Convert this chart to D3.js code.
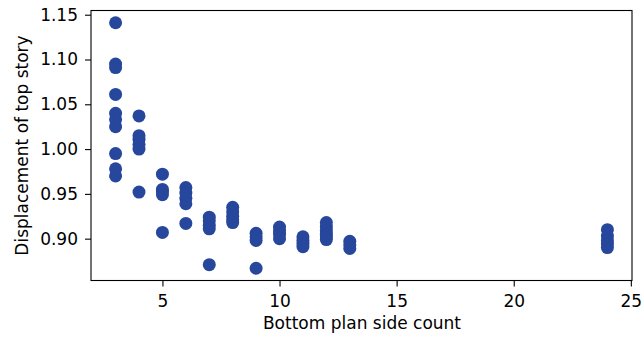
<!DOCTYPE html>
<html>
<head>
<meta charset="utf-8">
<script src="https://cdn.jsdelivr.net/npm/d3@7"></script>
<style>
  body { margin: 0; background: #fff; }
  text { font-family: "DejaVu Sans", sans-serif; fill: #000; }
</style>
</head>
<body>
<div id="chart"></div>
<script>
// side count of the bottom plan and the top story displacement
var sides = [3, 3, 3, 3, 3, 3, 3, 3, 3, 3,
  4, 4, 4, 4, 4, 4,
  5, 5, 5, 5, 5,
  6, 6, 6, 6, 6,
  7, 7, 7, 7, 7,
  8, 8, 8, 8, 8,
  9, 9, 9, 9,
  10, 10, 10, 10,
  11, 11, 11, 11,
  12, 12, 12, 12, 12, 12,
  13, 13, 13,
  24, 24, 24, 24, 24];
var displacement = [1.141, 1.095, 1.091, 1.061, 1.040, 1.033, 1.025, 0.995, 0.978, 0.970,
  1.037, 1.015, 1.011, 1.005, 1.000, 0.952,
  0.972, 0.955, 0.952, 0.949, 0.907,
  0.957, 0.951, 0.945, 0.939, 0.917,
  0.924, 0.920, 0.915, 0.911, 0.871,
  0.935, 0.930, 0.925, 0.921, 0.918,
  0.906, 0.902, 0.898, 0.867,
  0.913, 0.909, 0.905, 0.900,
  0.902, 0.898, 0.894, 0.891,
  0.918, 0.913, 0.909, 0.905, 0.902, 0.899,
  0.897, 0.893, 0.889,
  0.910, 0.903, 0.898, 0.894, 0.890];
var x_ticks = [5, 10, 15, 20, 25];
var y_ticks = [0.90, 0.95, 1.00, 1.05, 1.10, 1.15];

var width = 643, height = 338;
var margin = {top: 10.5, right: 11, bottom: 57.5, left: 91};

var points = sides.map(function(d, i) { return {x: d, y: displacement[i]}; });

// matplotlib style 5% padding around the data
function padded(ext) {
  var pad = (ext[1] - ext[0]) * 0.05;
  return [ext[0] - pad, ext[1] + pad];
}

var x = d3.scaleLinear()
  .domain(padded(d3.extent(sides)))
  .range([margin.left, width - margin.right]);
var y = d3.scaleLinear()
  .domain(padded(d3.extent(displacement)))
  .range([height - margin.bottom, margin.top]);

var svg = d3.select("#chart").append("svg")
  .attr("width", width)
  .attr("height", height);

svg.append("g")
  .selectAll("circle").data(points)
  .enter().append("circle")
  .attr("cx", function(d) { return x(d.x); })
  .attr("cy", function(d) { return y(d.y); })
  .attr("r", 6.5)
  .style("fill", "#27479d");

var x_axis = svg.append("g")
  .attr("transform", "translate(0," + (height - margin.bottom) + ")")
  .call(d3.axisBottom(x).tickValues(x_ticks).tickFormat(d3.format("d")).tickSize(6).tickPadding(8));
var y_axis = svg.append("g")
  .attr("transform", "translate(" + margin.left + ",0)")
  .call(d3.axisLeft(y).tickValues(y_ticks).tickFormat(d3.format(".2f")).tickSize(6).tickPadding(7));

[x_axis, y_axis].forEach(function(a) {
  a.selectAll("text").style("font-size", "17px").style("font-family", "DejaVu Sans");
  a.selectAll("line").style("stroke", "#000").style("stroke-width", 1.1);
  a.select(".domain").remove();
});

// frame
svg.append("rect")
  .attr("x", margin.left)
  .attr("y", margin.top)
  .attr("width", width - margin.left - margin.right)
  .attr("height", height - margin.top - margin.bottom)
  .style("fill", "none")
  .style("stroke", "#000")
  .style("stroke-width", 1.1);

svg.append("text")
  .attr("x", 362)
  .attr("y", 329)
  .attr("text-anchor", "middle")
  .style("font-size", "17px")
  .text("Bottom plan side count");

svg.append("text")
  .attr("transform", "translate(28," + ((margin.top + height - margin.bottom) / 2) + ") rotate(-90)")
  .attr("text-anchor", "middle")
  .style("font-size", "17px")
  .text("Displacement of top story");
</script>
</body>
</html>
